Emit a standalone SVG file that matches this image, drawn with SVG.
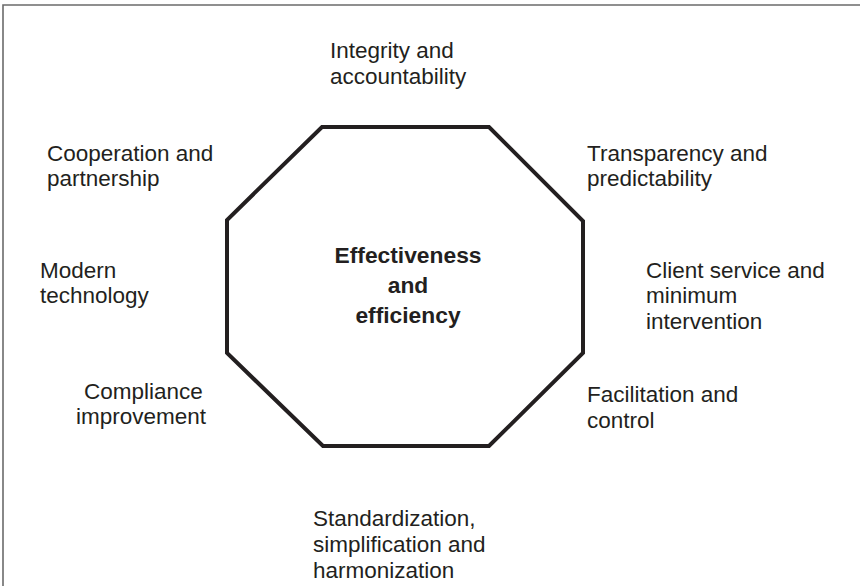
<svg xmlns="http://www.w3.org/2000/svg" width="860" height="586" viewBox="0 0 860 586">
  <style>
    .lbl { font-family: "Liberation Sans", Arial, sans-serif; font-size: 22.5px; fill: #231f20; }
    .core { font-family: "Liberation Sans", Arial, sans-serif; font-size: 22.8px; font-weight: bold; fill: #231f20; text-anchor: middle; }
    .frame { fill: none; stroke: #6b6b6b; stroke-width: 1.6; }
    .oct { fill: none; stroke: #231f20; stroke-width: 4; stroke-linejoin: miter; }
  </style>
  <rect width="860" height="586" fill="#ffffff"/>
  <!-- frame: top and left edges only -->
  <path class="frame" d="M3,586 V5 H860"/>

  <g id="center">
    <polygon class="oct" points="322,127 489,127 583,221 583,353 489,446 323,446 227,353 227,220"/>
    <text class="core" x="408" y="263">Effectiveness</text>
    <text class="core" x="408" y="293">and</text>
    <text class="core" x="408" y="323">efficiency</text>
  </g>

  <g id="integrity">
    <text class="lbl" x="330" y="58">Integrity and</text>
    <text class="lbl" x="330" y="84">accountability</text>
  </g>
  <g id="transparency">
    <text class="lbl" x="587" y="161">Transparency and</text>
    <text class="lbl" x="587" y="186">predictability</text>
  </g>
  <g id="client-service">
    <text class="lbl" x="646" y="278">Client service and</text>
    <text class="lbl" x="646" y="303">minimum</text>
    <text class="lbl" x="646" y="329">intervention</text>
  </g>
  <g id="facilitation">
    <text class="lbl" x="587" y="402">Facilitation and</text>
    <text class="lbl" x="587" y="428">control</text>
  </g>
  <g id="standardization">
    <text class="lbl" x="313" y="526">Standardization,</text>
    <text class="lbl" x="313" y="552">simplification and</text>
    <text class="lbl" x="313" y="578">harmonization</text>
  </g>
  <g id="compliance">
    <text class="lbl" x="84" y="399">Compliance</text>
    <text class="lbl" x="76" y="424">improvement</text>
  </g>
  <g id="technology">
    <text class="lbl" x="40" y="278">Modern</text>
    <text class="lbl" x="40" y="303">technology</text>
  </g>
  <g id="cooperation">
    <text class="lbl" x="47" y="161">Cooperation and</text>
    <text class="lbl" x="47" y="186">partnership</text>
  </g>
</svg>
